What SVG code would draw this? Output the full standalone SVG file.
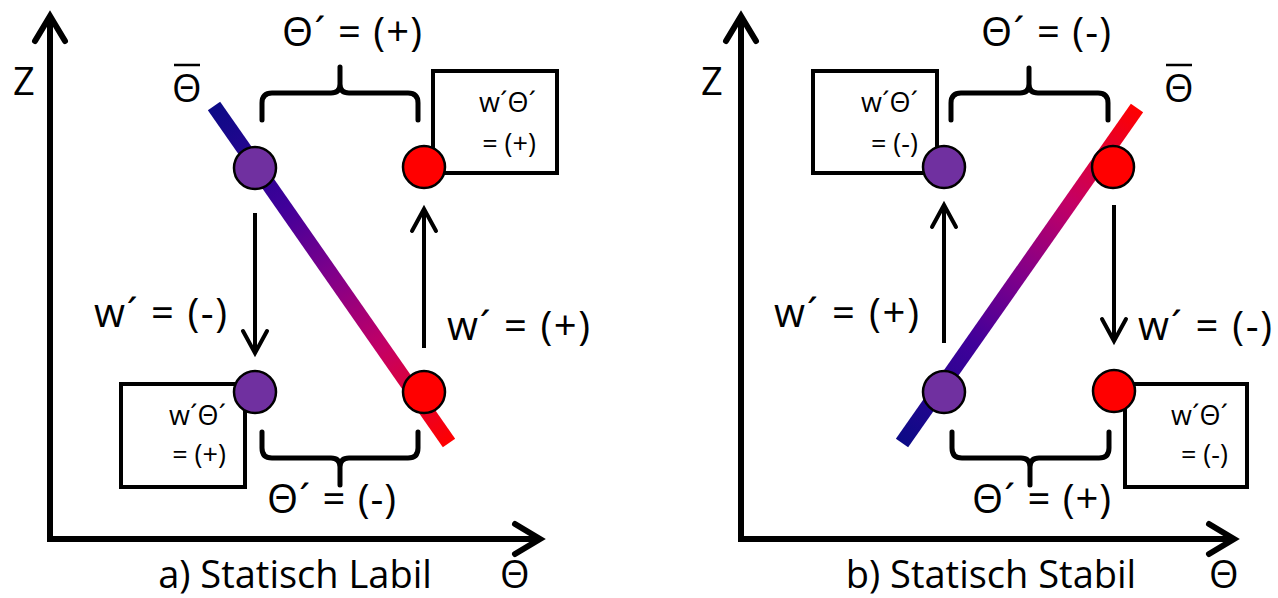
<svg xmlns="http://www.w3.org/2000/svg" width="1278" height="598" viewBox="0 0 1278 598">
<style>
  .t { font-family: "Open Sans", "DejaVu Sans", sans-serif; fill: #000; }
  .big { font-size: 38px; }
  .lbl { font-size: 40px; }
  .small { font-size: 27px; }
  .axis { fill: none; stroke: #000; stroke-width: 6; stroke-linejoin: miter; }
  .arr { fill: none; stroke: #000; stroke-width: 4; }
  .brace { fill: none; stroke: #000; stroke-width: 5; stroke-linecap: round; stroke-linejoin: round; }
  .box { fill: #fff; stroke: #000; stroke-width: 4; }
  .pc { fill: #7030A0; stroke: #000; stroke-width: 2.5; }
  .rc { fill: #FF0000; stroke: #000; stroke-width: 2.5; }
  .ovl { stroke: #000; stroke-width: 2.5; }
</style>
<defs>
  <marker id="axh" markerUnits="userSpaceOnUse" markerWidth="40" markerHeight="40" refX="27" refY="16" orient="auto-start-reverse" overflow="visible">
    <path d="M2,1 L27,16 L2,31" fill="none" stroke="#000" stroke-width="6" stroke-linecap="round" stroke-linejoin="miter"/>
  </marker>
  <marker id="ah" markerUnits="userSpaceOnUse" markerWidth="30" markerHeight="30" refX="23" refY="13" orient="auto" overflow="visible">
    <path d="M1,1 L23,13 L1,25" fill="none" stroke="#000" stroke-width="4" stroke-linecap="round" stroke-linejoin="miter"/>
  </marker>
  <linearGradient id="gL" gradientUnits="userSpaceOnUse" x1="214" y1="106" x2="449" y2="443">
    <stop offset="0" stop-color="#0c0a86"/>
    <stop offset="0.3" stop-color="#40009a"/>
    <stop offset="0.5" stop-color="#80008a"/>
    <stop offset="0.72" stop-color="#c40064"/>
    <stop offset="1" stop-color="#ff0000"/>
  </linearGradient>
  <linearGradient id="gR" gradientUnits="userSpaceOnUse" x1="902" y1="443" x2="1137" y2="108">
    <stop offset="0" stop-color="#0c0a86"/>
    <stop offset="0.3" stop-color="#40009a"/>
    <stop offset="0.5" stop-color="#80008a"/>
    <stop offset="0.72" stop-color="#c40064"/>
    <stop offset="1" stop-color="#ff0000"/>
  </linearGradient>
</defs>

<!-- Panel a -->
<g id="axes-a">
  <path class="axis" d="M50,16 L50,539 L540,539" marker-start="url(#axh)" marker-end="url(#axh)"/>
  <text class="t big" x="13" y="95">Z</text>
  <text class="t big" x="500" y="588">Θ</text>
  <text class="t big" x="295" y="588" text-anchor="middle">a) Statisch Labil</text>
</g>
<g id="profile-a">
  <line x1="214" y1="106" x2="449" y2="443" stroke="url(#gL)" stroke-width="15" stroke-linecap="butt"/>
  <line class="ovl" x1="174" y1="65" x2="200" y2="65"/>
  <text class="t big" x="172" y="102">Θ</text>
</g>
<g id="box-a-top">
  <rect class="box" x="433" y="71" width="124" height="102"/>
  <text class="t small" x="536" y="112" text-anchor="end">w´Θ´</text>
  <text class="t small" x="536" y="153" text-anchor="end">= (+)</text>
</g>
<g id="box-a-bottom">
  <rect class="box" x="121" y="384" width="124" height="103"/>
  <text class="t small" x="226" y="425" text-anchor="end">w´Θ´</text>
  <text class="t small" x="226" y="464" text-anchor="end">= (+)</text>
</g>
<g id="connectors-a">
  <line class="arr" x1="255" y1="213" x2="255" y2="353" marker-end="url(#ah)"/>
  <line class="arr" x1="424" y1="348" x2="424" y2="209" marker-end="url(#ah)"/>
  <path class="brace" d="M262,120 V103 Q262,93 272,93 H331 Q340,93 340,84 V67 M340,84 Q340,93 349,93 H408 Q418,93 418,103 V120"/>
  <path class="brace" d="M262,432 V448 Q262,458 272,458 H331 Q340,458 340,467 V485 M340,467 Q340,458 349,458 H408 Q418,458 418,448 V432"/>
</g>
<g id="parcels-a">
  <circle class="pc" cx="255" cy="168" r="21"/>
  <circle class="rc" cx="424" cy="167" r="21"/>
  <circle class="pc" cx="255" cy="392" r="21"/>
  <circle class="rc" cx="424" cy="392" r="21"/>
</g>
<g id="labels-a">
  <text class="t lbl" x="282" y="46" textLength="140" lengthAdjust="spacing">Θ´ = (+)</text>
  <text class="t lbl" x="94" y="327" textLength="133" lengthAdjust="spacing">w´ = (-)</text>
  <text class="t lbl" x="447" y="340" textLength="143" lengthAdjust="spacing">w´ = (+)</text>
  <text class="t lbl" x="267" y="513" textLength="129" lengthAdjust="spacing">Θ´ = (-)</text>
</g>

<!-- Panel b -->
<g id="axes-b">
  <path class="axis" d="M741,16 L741,539 L1234,539" marker-start="url(#axh)" marker-end="url(#axh)"/>
  <text class="t big" x="701" y="95">Z</text>
  <text class="t big" x="1209" y="588">Θ</text>
  <text class="t big" x="991" y="588" text-anchor="middle">b) Statisch Stabil</text>
</g>
<g id="profile-b">
  <line x1="902" y1="443" x2="1137" y2="108" stroke="url(#gR)" stroke-width="15" stroke-linecap="butt"/>
  <line class="ovl" x1="1166" y1="65" x2="1192" y2="65"/>
  <text class="t big" x="1164" y="102">Θ</text>
</g>
<g id="box-b-top">
  <rect class="box" x="813" y="71" width="124" height="102"/>
  <text class="t small" x="918" y="112" text-anchor="end">w´Θ´</text>
  <text class="t small" x="918" y="153" text-anchor="end">= (-)</text>
</g>
<g id="box-b-bottom">
  <rect class="box" x="1125" y="384" width="122" height="103"/>
  <text class="t small" x="1228" y="425" text-anchor="end">w´Θ´</text>
  <text class="t small" x="1228" y="464" text-anchor="end">= (-)</text>
</g>
<g id="connectors-b">
  <line class="arr" x1="944" y1="343" x2="944" y2="205" marker-end="url(#ah)"/>
  <line class="arr" x1="1114" y1="205" x2="1114" y2="341" marker-end="url(#ah)"/>
  <path class="brace" d="M951,120 V103 Q951,93 961,93 H1020 Q1029,93 1029,84 V68 M1029,84 Q1029,93 1038,93 H1098 Q1108,93 1108,103 V120"/>
  <path class="brace" d="M952,432 V448 Q952,458 962,458 H1021 Q1030,458 1030,467 V485 M1030,467 Q1030,458 1039,458 H1099 Q1109,458 1109,448 V432"/>
</g>
<g id="parcels-b">
  <circle class="pc" cx="944" cy="167" r="21"/>
  <circle class="rc" cx="1113" cy="167" r="21"/>
  <circle class="pc" cx="944" cy="392" r="21"/>
  <circle class="rc" cx="1114" cy="391" r="21"/>
</g>
<g id="labels-b">
  <text class="t lbl" x="981" y="46" textLength="130" lengthAdjust="spacing">Θ´ = (-)</text>
  <text class="t lbl" x="774" y="327" textLength="145" lengthAdjust="spacing">w´ = (+)</text>
  <text class="t lbl" x="1138" y="340" textLength="134" lengthAdjust="spacing">w´ = (-)</text>
  <text class="t lbl" x="972" y="513" textLength="139" lengthAdjust="spacing">Θ´ = (+)</text>
</g>
</svg>
